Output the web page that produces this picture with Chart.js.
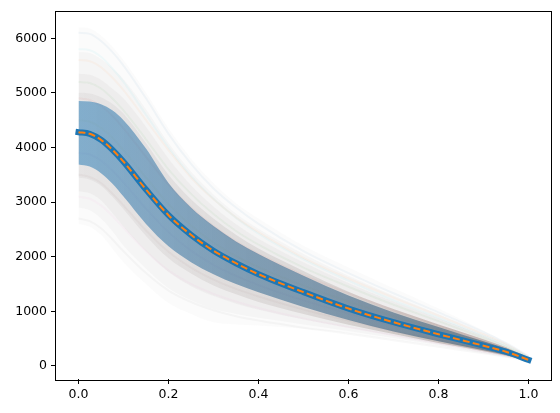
<!DOCTYPE html>
<html>
<head>
<meta charset="utf-8">
<script src="https://cdn.jsdelivr.net/npm/chart.js@4.4.1/dist/chart.umd.min.js"></script>
<style>
  html, body { margin: 0; padding: 0; background: #fff; }
  #wrap { width: 560px; height: 413px; }
</style>
</head>
<body>
<div id="wrap"><canvas id="chart" width="560" height="413"></canvas></div>
<script>
// sample positions along x
const xs = [0, 0.025, 0.05, 0.075, 0.1, 0.15, 0.2, 0.25, 0.3, 0.35, 0.4, 0.5, 0.6, 0.7, 0.8, 0.9, 0.95, 1.0];

// central curve (thick blue + dashed orange on top)
const meanCurve = [4280, 4250, 4140, 3960, 3740, 3230, 2760, 2400, 2110, 1880, 1680, 1350, 1050, 800, 580, 370, 260, 110];

// shaded band
const bandUpper = [4850, 4840, 4790, 4680, 4500, 3980, 3350, 2900, 2560, 2280, 2050, 1650, 1290, 980, 710, 450, 320, 140];
const bandLower = [3690, 3650, 3530, 3340, 3100, 2600, 2190, 1900, 1680, 1500, 1350, 1080, 840, 630, 450, 285, 200, 88];

// haze of faint sample curves, from the widest spread to the dense core
const hazeAUpper = [6200, 6180, 6050, 5850, 5600, 5000, 4350, 3800, 3350, 2980, 2700, 2200, 1800, 1420, 1050, 650, 430, 180];
const hazeALower = [2600, 2550, 2400, 2150, 1900, 1500, 1150, 950, 800, 760, 740, 680, 600, 480, 360, 230, 160, 90];
const hazeBUpper = [5750, 5730, 5620, 5450, 5250, 4700, 4080, 3560, 3140, 2790, 2510, 2050, 1650, 1290, 950, 600, 400, 170];
const hazeBLower = [2900, 2850, 2700, 2470, 2200, 1780, 1420, 1200, 1040, 950, 880, 760, 640, 510, 380, 240, 168, 92];
const hazeCUpper = [5350, 5330, 5240, 5080, 4900, 4380, 3800, 3310, 2920, 2600, 2330, 1900, 1520, 1180, 870, 550, 370, 160];
const hazeCLower = [3200, 3160, 3030, 2800, 2550, 2100, 1720, 1460, 1280, 1140, 1030, 850, 700, 550, 400, 255, 176, 94];
const hazeCoreUpper = [5000, 4990, 4920, 4800, 4620, 4080, 3500, 3050, 2700, 2400, 2150, 1740, 1360, 1040, 760, 490, 340, 150];
const hazeCoreLower = [3450, 3410, 3300, 3100, 2870, 2380, 1970, 1690, 1470, 1310, 1170, 950, 755, 585, 420, 270, 185, 92];

// a few individual faint curves for texture
const sampleCurves = [
  [6100, 6080, 5950, 5750, 5500, 4900, 4250, 3700, 3250, 2900, 2600, 2100, 1700, 1330, 980, 620, 420, 180],
  [5600, 5580, 5470, 5280, 5050, 4500, 3950, 3450, 3050, 2720, 2450, 1980, 1600, 1250, 920, 580, 400, 170],
  [5200, 5180, 5080, 4900, 4680, 4150, 3600, 3150, 2780, 2470, 2220, 1800, 1450, 1120, 820, 510, 350, 150],
  [4900, 4870, 4760, 4580, 4350, 3830, 3320, 2900, 2560, 2280, 2050, 1660, 1330, 1020, 740, 460, 320, 140],
  [3900, 3870, 3760, 3580, 3360, 2880, 2450, 2110, 1850, 1650, 1480, 1200, 960, 740, 540, 340, 240, 110],
  [3500, 3460, 3350, 3160, 2940, 2480, 2090, 1800, 1580, 1410, 1270, 1030, 830, 640, 470, 300, 210, 100],
  [3100, 3060, 2940, 2750, 2530, 2100, 1750, 1500, 1320, 1180, 1060, 870, 710, 560, 410, 260, 185, 95],
  [2700, 2650, 2520, 2320, 2100, 1700, 1380, 1170, 1020, 910, 830, 700, 590, 470, 350, 230, 165, 90],
  [4500, 4470, 4360, 4180, 3950, 3450, 2960, 2570, 2260, 2010, 1810, 1470, 1180, 910, 660, 420, 290, 120],
  [5800, 5780, 5660, 5450, 5200, 4600, 4000, 3480, 3060, 2710, 2420, 1950, 1560, 1200, 880, 550, 380, 160]
];

const xTicks = [0, 0.2, 0.4, 0.6, 0.8, 1.0];
const yTicks = [0, 1000, 2000, 3000, 4000, 5000, 6000];

const tab10 = ['31,119,180', '255,127,14', '44,160,44', '214,39,40', '148,103,189', '140,86,75', '227,119,194', '127,127,127', '188,189,34', '23,190,207'];

const pts = arr => arr.map((v, i) => ({ x: xs[i], y: v }));

// horizontal gradient along the x axis (stops given in data units 0..1)
function xGradient(stops) {
  return ctx => {
    const chart = ctx.chart, sx = chart.scales.x;
    if (!chart.chartArea || !sx) return stops[0][1];
    const g = chart.ctx.createLinearGradient(sx.getPixelForValue(0), 0, sx.getPixelForValue(1), 0);
    stops.forEach(s => g.addColorStop(s[0], s[1]));
    return g;
  };
}

const base = { pointRadius: 0, cubicInterpolationMode: 'monotone' };
const hidden = { borderWidth: 0, borderColor: 'rgba(0,0,0,0)' };

function bandPair(upper, lower, color, order) {
  return [
    { ...base, ...hidden, data: pts(upper), backgroundColor: color, fill: '+1', order: order },
    { ...base, ...hidden, data: pts(lower), fill: false, order: order + 1 }
  ];
}

const datasets = [
  { ...base, data: pts(meanCurve), borderColor: '#ff7f0e', borderWidth: 2, borderDash: [7, 3.2], fill: false, order: 0 },
  { ...base, data: pts(meanCurve), borderColor: '#1f77b4', borderWidth: 6, borderCapStyle: 'square', fill: false, order: 1 },
  ...bandPair(bandUpper, bandLower,
    xGradient([[0, 'rgba(31,119,180,0.5)'], [0.15, 'rgba(35,110,165,0.5)'], [0.35, 'rgba(40,100,145,0.52)'], [0.7, 'rgba(45,90,125,0.52)'], [1, 'rgba(55,80,100,0.55)']]), 4),
  ...bandPair(hazeCoreUpper, hazeCoreLower,
    xGradient([[0, 'rgba(150,140,140,0.09)'], [0.5, 'rgba(130,115,110,0.17)'], [0.85, 'rgba(110,85,75,0.3)'], [1, 'rgba(110,85,75,0.3)']]), 6),
  ...bandPair(hazeCUpper, hazeCLower, 'rgba(150,145,145,0.07)', 10),
  ...bandPair(hazeBUpper, hazeBLower, 'rgba(160,160,160,0.06)', 12),
  ...bandPair(hazeAUpper, hazeALower, 'rgba(170,170,170,0.05)', 14)
];

sampleCurves.forEach((c, i) => {
  datasets.push({ ...base, data: pts(c), borderColor: 'rgba(' + tab10[i % 10] + ',0.05)', borderWidth: 2, fill: false, order: 8 });
});

const frame = {
  id: 'frame',
  afterDatasetsDraw(chart) {
    const a = chart.chartArea, ctx = chart.ctx;
    ctx.save();
    ctx.strokeStyle = '#000';
    ctx.lineWidth = 1;
    ctx.setLineDash([]);
    ctx.strokeRect(Math.round(a.left) - 0.5, Math.round(a.top) - 0.5, Math.round(a.right - a.left) + 1, Math.round(a.bottom - a.top) + 1);
    ctx.restore();
  }
};

const tickFont = { family: 'DejaVu Sans', size: 12.5 };

new Chart(document.getElementById('chart'), {
  type: 'line',
  data: { datasets },
  options: {
    responsive: false,
    animation: false,
    events: [],
    layout: { padding: { top: 11, right: 9, left: 0, bottom: 0 } },
    plugins: { legend: { display: false }, tooltip: { enabled: false } },
    scales: {
      x: {
        type: 'linear', min: -0.05, max: 1.05,
        afterBuildTicks: s => { s.ticks = xTicks.map(v => ({ value: v })); },
        afterFit: s => { s.height = 34; },
        border: { display: false },
        grid: { drawOnChartArea: false, drawTicks: true, tickLength: 5, color: '#000', lineWidth: 1 },
        ticks: { color: '#000', font: tickFont, padding: 3, maxRotation: 0, callback: v => v.toFixed(1) }
      },
      y: {
        type: 'linear', min: -240, max: 6490,
        afterBuildTicks: s => { s.ticks = yTicks.map(v => ({ value: v })); },
        afterFit: s => { s.width = 56; },
        border: { display: false },
        grid: { drawOnChartArea: false, drawTicks: true, tickLength: 5, color: '#000', lineWidth: 1 },
        ticks: { color: '#000', font: tickFont, padding: 4, callback: v => String(v) }
      }
    }
  },
  plugins: [frame]
});
</script>
</body>
</html>
